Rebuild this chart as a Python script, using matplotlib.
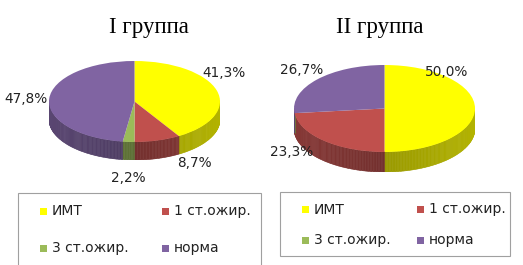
import numpy as np
import matplotlib.pyplot as plt
from matplotlib.patches import Polygon, Rectangle
from matplotlib.colors import to_rgb

W, H = 523, 265

categories = ['ИМТ', '1 ст.ожир.', '3 ст.ожир.', 'норма']
colors = ['#ffff00', '#c0504d', '#9bbb59', '#8064a2']
titles = ['I группа', 'II группа']
group1 = [41.3, 8.7, 2.2, 47.8]
group2 = [50.0, 23.3, 0.0, 26.7]

# layout in pixels: pie centre, semi-axes, wall depth
pies = [
    dict(vals=group1, cx=134.5, cy=101.5, a=85.5, b=40.5, depth=18,
         title_xy=(149, 28), lbl_xy=[(224, 73), (194, 163), (128, 178), (26, 99)],
         box=(18, 193, 261, 280), cols=(43, 165.5), rows=(211, 248)),
    dict(vals=group2, cx=384.5, cy=108.5, a=90.5, b=43.5, depth=20,
         title_xy=(380, 28), lbl_xy=[(447, 72), (292, 152), None, (302, 70)],
         box=(280, 192, 510, 256), cols=(305, 420.5), rows=(209.5, 240)),
]

fig = plt.figure(figsize=(W / 100, H / 100), dpi=100)


def fx(x):
    return x / W


def fy(y):
    return 1 - y / H


#-------------------------------------------------------------------
def draw_pie3d(p, title):
    cx, cy, a, b, depth = p['cx'], p['cy'], p['a'], p['b'], p['depth']
    ax = fig.add_axes([fx(cx - a), fy(cy + b + depth), 2 * a / W, (2 * b + depth) / H])
    wedges, _ = ax.pie(p['vals'], colors=colors, startangle=90, counterclock=False,
                       radius=1, center=(0, 0), wedgeprops=dict(linewidth=0))
    d = depth / b
    # side walls, front half only
    for w, c in zip(wedges, colors):
        t1, t2 = w.theta1, w.theta2
        angs = np.linspace(t1, t2, max(int(abs(t2 - t1)), 2) + 1)
        base = np.array(to_rgb(c))
        for a0, a1 in zip(angs[:-1], angs[1:]):
            mid = np.radians((a0 + a1) / 2)
            if np.sin(mid) > 0.02:
                continue
            f = 0.6 + 0.1 * abs(np.cos(mid))
            r0, r1 = np.radians(a0), np.radians(a1)
            pts = [(np.cos(r0), np.sin(r0)), (np.cos(r1), np.sin(r1)),
                   (np.cos(r1), np.sin(r1) - d), (np.cos(r0), np.sin(r0) - d)]
            ax.add_patch(Polygon(pts, closed=True, facecolor=base * f,
                                 edgecolor=base * f, linewidth=0.4, zorder=0))
    for w in wedges:
        w.set_zorder(2)
        w.set_clip_on(False)
    ax.set_aspect('auto')
    ax.set_xlim(-1, 1)
    ax.set_ylim(-1 - d, 1)
    ax.axis('off')

    fig.text(fx(p['title_xy'][0]), fy(p['title_xy'][1]), title,
             ha='center', va='center', fontsize=16.5, family='Liberation Serif')
    for v, xy in zip(p['vals'], p['lbl_xy']):
        if xy is None or v == 0:
            continue
        fig.text(fx(xy[0]), fy(xy[1]), f'{v:.1f}%'.replace('.', ','),
                 ha='center', va='center', fontsize=9.8, color='#222222')


def draw_legend(p):
    x0, y0, x1, y1 = p['box']
    fig.add_artist(Rectangle((fx(x0), fy(y1)), fx(x1 - x0), (y1 - y0) / H,
                             transform=fig.transFigure, fill=False,
                             edgecolor='#a0a0a0', linewidth=0.8))
    for i, (cat, c) in enumerate(zip(categories, colors)):
        x = p['cols'][i % 2]
        y = p['rows'][i // 2]
        fig.add_artist(Rectangle((fx(x - 3.5), fy(y + 3.5)), 7 / W, 7 / H,
                                 transform=fig.transFigure, facecolor=c, edgecolor='none'))
        fig.text(fx(x + 8.5), fy(y), cat, ha='left', va='center',
                 fontsize=10, color='#222222')


for p, t in zip(pies, titles):
    draw_pie3d(p, t)
    draw_legend(p)

fig.savefig('out.png', dpi=100)
